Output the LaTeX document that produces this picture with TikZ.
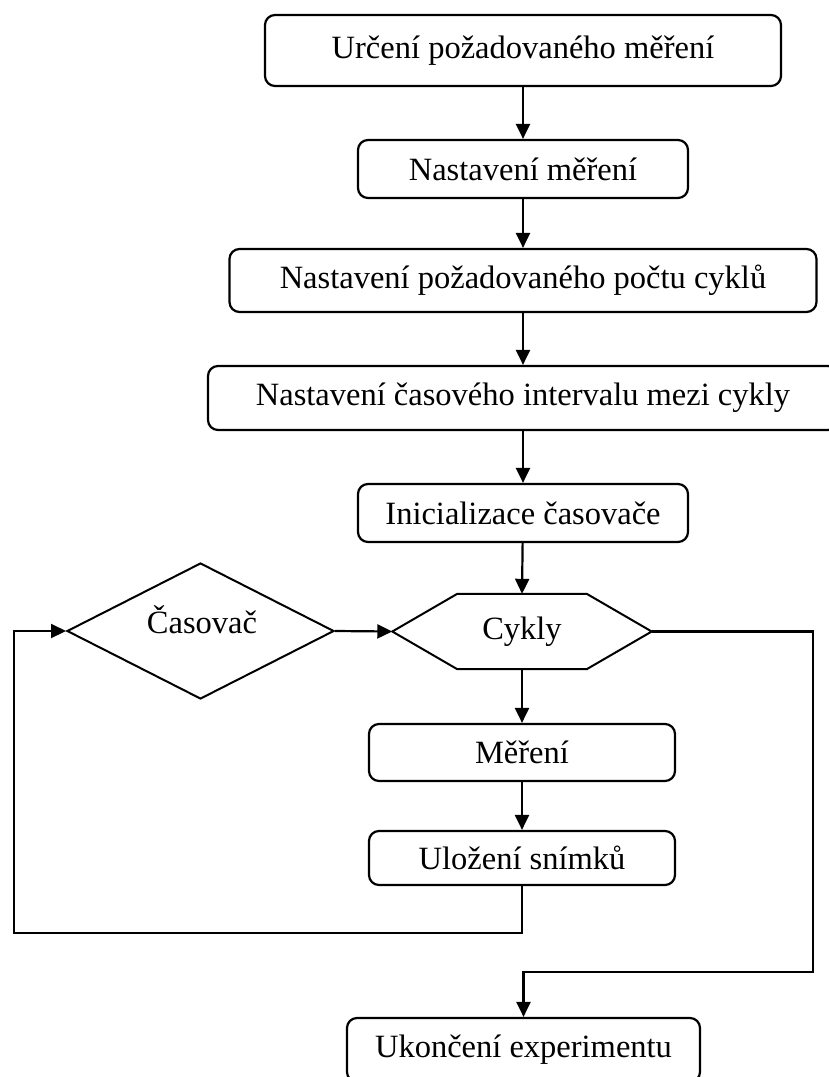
\documentclass[tikz,border=0pt]{standalone}
\usepackage{fontspec}
\setmainfont{Liberation Serif}
\usetikzlibrary{arrows.meta,shapes.geometric}
\tikzset{
  box/.style={draw, line width=2.2pt, rounded corners=10pt, inner sep=0pt, align=center},
  dia/.style={draw, diamond, line width=2pt, inner sep=0pt},
  plain/.style={inner sep=0pt},
  conn/.style={line width=2.2pt},
  arr/.style={conn, -{Triangle[length=15pt,width=14pt]}}
}
\begin{document}
\begin{tikzpicture}[x=1pt,y=-1pt,font=\fontsize{32.5}{38}\selectfont]
\useasboundingbox (0,0) rectangle (829,1077);
\node[box, minimum width=516pt, minimum height=71pt] (b1) at (523,50.5) {Určení požadovaného měření};
\node[box, minimum width=330pt, minimum height=58pt] (b2) at (523,169) {Nastavení měření};
\node[box, minimum width=587pt, minimum height=63pt] (b3) at (523,280.5) {Nastavení požadovaného počtu cyklů};
\node[box, minimum width=630pt, minimum height=64pt] (b4) at (523,398) {Nastavení časového intervalu mezi cykly};
\node[box, minimum width=330pt, minimum height=58pt] (b5) at (523,513) {Inicializace časovače};
\node[plain, minimum width=259pt, minimum height=75pt] (cyk) at (522,631.5) {Cykly};
\draw[line width=2pt, line join=miter] (cyk.west) -- ([xshift=65pt]cyk.north west) -- ([xshift=-65pt]cyk.north east) -- (cyk.east) -- ([xshift=-65pt]cyk.south east) -- ([xshift=65pt]cyk.south west) -- cycle;
\node[dia, minimum width=267pt, minimum height=136pt] (tim) at (200.5,631) {};
\node[plain] (timtext) at (202,620) {Časovač};
\node[box, minimum width=306pt, minimum height=57pt] (m) at (522,752.5) {Měření};
\node[box, minimum width=306pt, minimum height=54pt] (u) at (522,858) {Uložení snímků};
\node[box, minimum width=353pt, minimum height=64pt] (k) at (523.5,1050) {Ukončení experimentu};
\coordinate (lb) at (14,933);
\coordinate (rb) at (813,972);
\draw[arr] (b1) -- (b2);
\draw[arr] (b2) -- (b3);
\draw[arr] (b3.south) -- (b4.north);
\draw[arr] (b4) -- (b5);
\draw[arr] (b5) -- (cyk.north);
\draw[arr] (cyk.south) -- (m);
\draw[arr] (m) -- (u);
\draw[arr] (tim.east) -- (cyk.west);
\draw[arr] (u.south) |- (lb) |- (tim.west);
\draw[arr] (cyk.east) -| (rb) -| (k.north);
\end{tikzpicture}
\end{document}
